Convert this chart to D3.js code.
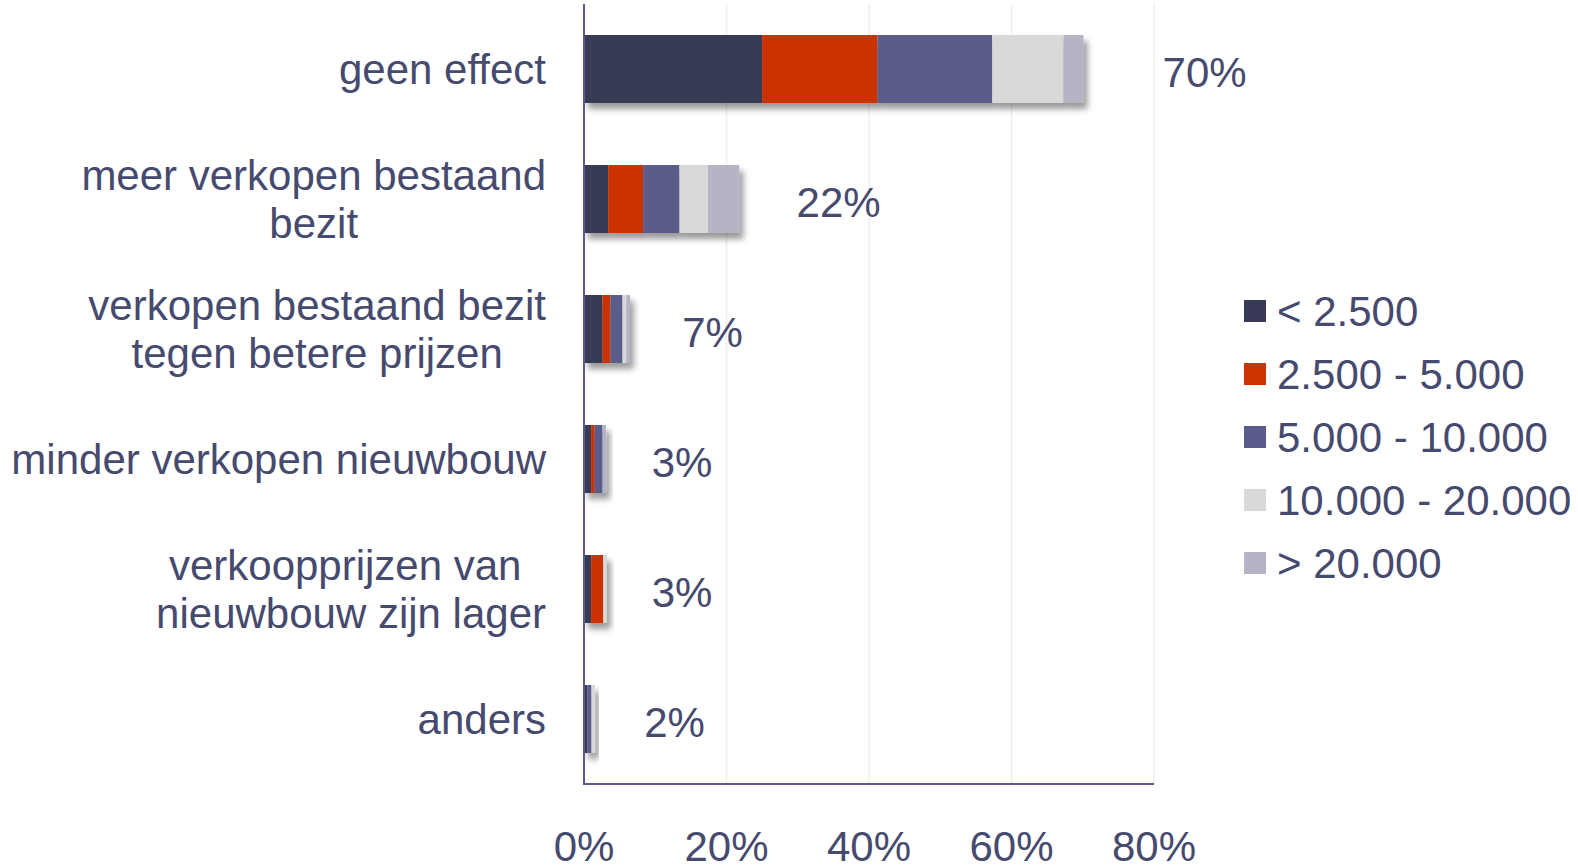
<!DOCTYPE html>
<html>
<head>
<meta charset="utf-8">
<script src="https://cdn.jsdelivr.net/npm/d3@7"></script>
<style>
  body { margin: 0; background: #fff; }
  text { font-family: "Liberation Sans", Arial, sans-serif; fill: #464a6e; }
</style>
</head>
<body>
<div id="chart"></div>
<script>
// categories, top to bottom (lines split for wrapping)
var categories = [
  ["geen effect"],
  ["meer verkopen bestaand", "bezit"],
  ["verkopen bestaand bezit", "tegen betere prijzen"],
  ["minder verkopen nieuwbouw"],
  ["verkoopprijzen van ", "nieuwbouw zijn lager"],
  ["anders"]
];
var seriesNames = ["< 2.500", "2.500 - 5.000", "5.000 - 10.000", "10.000 - 20.000", "> 20.000"];
var seriesColors = ["#383a57", "#cc3300", "#5a5b8a", "#d9d9d9", "#b4b4c5"];

// percentages per series, one value per category
var lt2500      = [25.0, 3.4, 2.6, 1.0, 1.0, 0.5];
var s2500_5000  = [16.2, 4.9, 1.1, 0.5, 1.7, 0.0];
var s5000_10000 = [16.1, 5.1, 1.7, 1.1, 0.0, 0.55];
var s10000_20000= [10.0, 4.0, 0.55, 0.0, 0.5, 0.5];
var gt20000     = [2.8, 4.4, 0.5, 0.5, 0.0, 0.0];

var totals = [70, 22, 7, 3, 3, 2];
var xTicks = [0, 20, 40, 60, 80];

var width = 1578, height = 867;
var plotLeft = 584, plotRight = 1154, plotTop = 4, plotBottom = 784, labelRight = 546;

var svg = d3.select("#chart").append("svg")
    .attr("width", width)
    .attr("height", height);

// shadow under the bars
var defs = svg.append("defs");
defs.append("filter")
    .attr("id", "shadow")
    .attr("x", "-20%").attr("y", "-30%")
    .attr("width", "150%").attr("height", "170%")
  .append("feDropShadow")
    .attr("dx", 4).attr("dy", 6)
    .attr("stdDeviation", 3)
    .attr("flood-color", "#000")
    .attr("flood-opacity", 0.4);

var x = d3.scaleLinear().domain([0, 80]).range([plotLeft, plotRight]);
var y = d3.scaleBand()
    .domain(d3.range(categories.length))
    .range([plotTop, plotBottom])
    .paddingInner(0.477)
    .paddingOuter(0.2385);

// build rows for stacking
var seriesValues = [lt2500, s2500_5000, s5000_10000, s10000_20000, gt20000];
var rows = categories.map(function(c, i) {
  var r = { idx: i };
  seriesNames.forEach(function(s, j) { r[s] = seriesValues[j][i]; });
  return r;
});
var stacked = d3.stack().keys(seriesNames)(rows);

// gridlines
svg.append("g")
    .selectAll("line")
    .data(xTicks.slice(1))
    .enter().append("line")
    .attr("x1", function(d) { return x(d); })
    .attr("x2", function(d) { return x(d); })
    .attr("y1", plotTop)
    .attr("y2", plotBottom)
    .attr("stroke", "#eeeeee")
    .attr("stroke-width", 1.5);

// bars, one group per category so the shadow falls under the whole bar
var barGroups = svg.append("g")
    .selectAll("g")
    .data(rows)
    .enter().append("g")
    .attr("filter", "url(#shadow)");

barGroups.each(function(row, i) {
  var g = d3.select(this);
  stacked.forEach(function(layer, j) {
    var d = layer[i];
    if (d[1] - d[0] <= 0) return;
    g.append("rect")
        .attr("x", x(d[0]))
        .attr("y", y(i))
        .attr("width", x(d[1]) - x(d[0]))
        .attr("height", y.bandwidth())
        .attr("fill", seriesColors[j]);
  });
});

// axes
svg.append("line")
    .attr("x1", plotLeft).attr("x2", plotLeft)
    .attr("y1", plotTop).attr("y2", plotBottom)
    .attr("stroke", "#5a5b8a").attr("stroke-width", 2);
svg.append("line")
    .attr("x1", plotLeft - 1).attr("x2", plotRight)
    .attr("y1", plotBottom).attr("y2", plotBottom)
    .attr("stroke", "#5a5b8a").attr("stroke-width", 2);

// x tick labels
svg.append("g")
    .selectAll("text")
    .data(xTicks)
    .enter().append("text")
    .attr("x", function(d) { return x(d); })
    .attr("y", 861)
    .attr("text-anchor", "middle")
    .style("font-size", "42px")
    .text(function(d) { return d + "%"; });

// category labels: lines centred on each other, block right-aligned
var catGroups = svg.append("g")
    .selectAll("g")
    .data(categories)
    .enter().append("g");

catGroups.each(function(lines, i) {
  var g = d3.select(this);
  var lineH = 48.5;
  var cy = y(i) + y.bandwidth() / 2;
  var texts = lines.map(function(l, k) {
    return g.append("text")
        .attr("y", cy + (k - (lines.length - 1) / 2) * lineH + 15)
        .attr("text-anchor", "middle")
        .style("font-size", "42px")
        .style("white-space", "pre")
        .text(l);
  });
  var maxW = d3.max(texts, function(t) { return t.node().getComputedTextLength(); });
  texts.forEach(function(t) { t.attr("x", labelRight - maxW / 2); });
});

// total labels
svg.append("g")
    .selectAll("text")
    .data(totals)
    .enter().append("text")
    .attr("x", function(d) { return x(d * 1.07 + 6.3); })
    .attr("y", function(d, i) { return y(i) + y.bandwidth() / 2 + 18; })
    .style("font-size", "42px")
    .text(function(d) { return d + "%"; });

// legend
var legend = svg.append("g")
    .selectAll("g")
    .data(seriesNames)
    .enter().append("g")
    .attr("transform", function(d, i) { return "translate(1244," + (300 + i * 63) + ")"; });

legend.append("rect")
    .attr("width", 22)
    .attr("height", 22)
    .attr("fill", function(d, i) { return seriesColors[i]; });

legend.append("text")
    .attr("x", 33)
    .attr("y", 26)
    .style("font-size", "42px")
    .text(function(d) { return d; });
</script>
</body>
</html>
